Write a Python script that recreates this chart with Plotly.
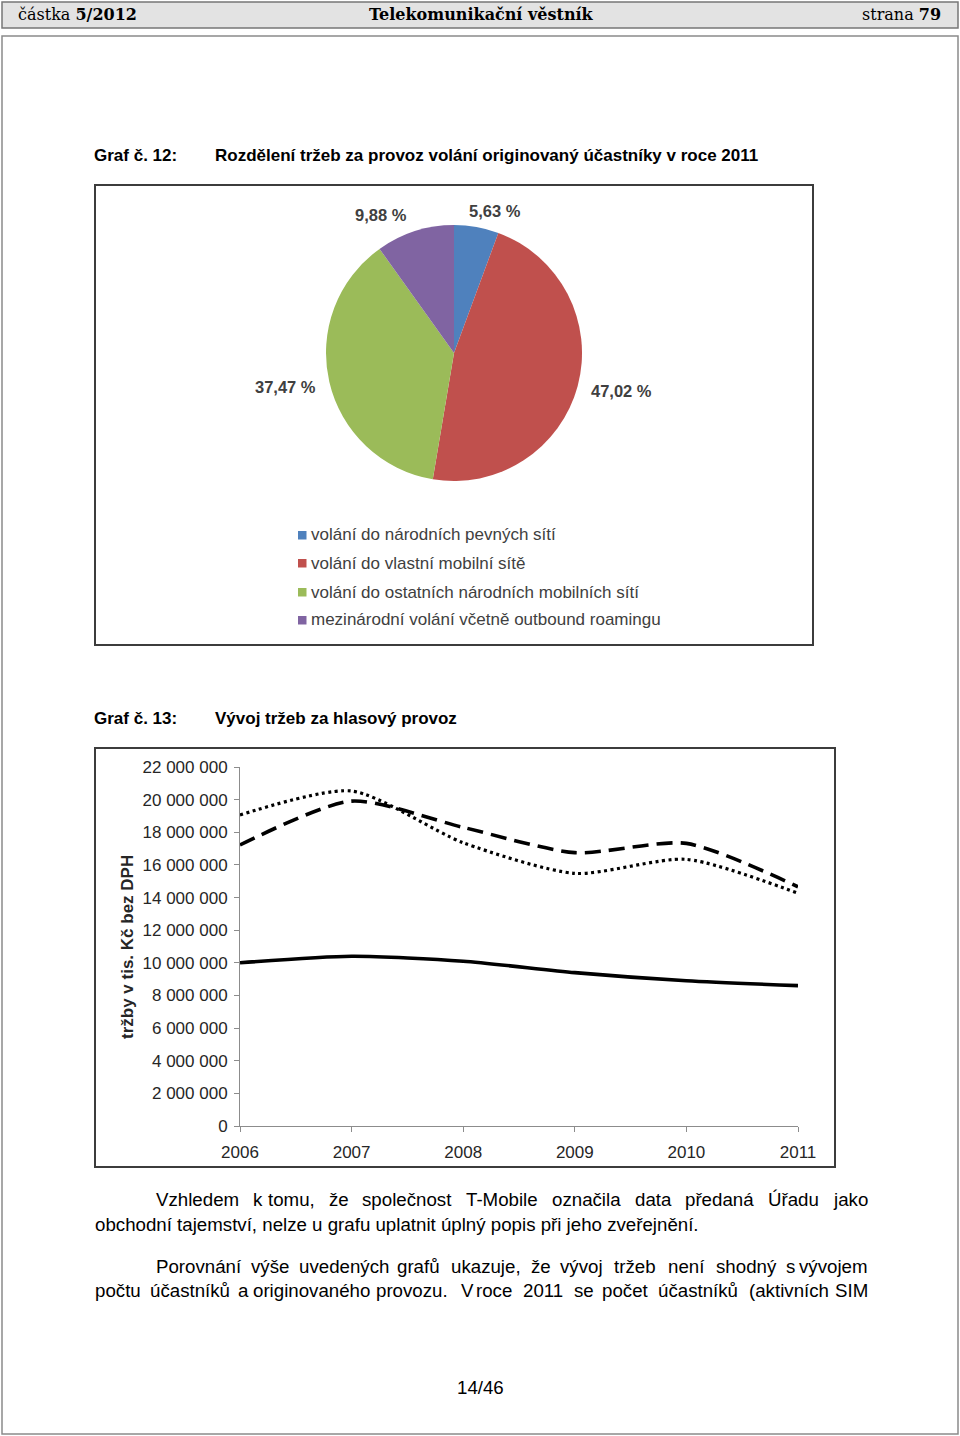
import plotly.graph_objects as go

W, H = 960, 1436

# ---------------- data ----------------
pie_labels = [
    "volání do národních pevných sítí",
    "volání do vlastní mobilní sítě",
    "volání do ostatních národních mobilních sítí",
    "mezinárodní volání včetně outbound roamingu",
]
pie_values = [5.63, 47.02, 37.47, 9.88]
pie_colors = ["#4F81BD", "#C0504D", "#9BBB59", "#8064A2"]

years = [2006, 2007, 2008, 2009, 2010, 2011]
series_dotted = [19_060_000, 20_530_000, 17_360_000, 15_480_000, 16_340_000, 14_260_000]
series_dashed = [17_220_000, 19_910_000, 18_300_000, 16_750_000, 17_320_000, 14_660_000]
series_solid = [10_000_000, 10_400_000, 10_100_000, 9_400_000, 8_900_000, 8_600_000]

y_tick_vals = [0, 2e6, 4e6, 6e6, 8e6, 10e6, 12e6, 14e6, 16e6, 18e6, 20e6, 22e6]
y_tick_text = ["0", "2 000 000", "4 000 000", "6 000 000", "8 000 000", "10 000 000",
               "12 000 000", "14 000 000", "16 000 000", "18 000 000", "20 000 000", "22 000 000"]
x_tick_text = ["2006", "2007", "2008", "2009", "2010", "2011"]

# ---------------- helpers ----------------
def px(x):
    return x / W

def py(y):
    return 1 - y / H

SANS = "Liberation Sans, Arial, sans-serif"
SERIF = "DejaVu Serif, Liberation Serif, serif"
BODY = 18.7

fig = go.Figure()

# pie chart
fig.add_trace(go.Pie(
    labels=pie_labels, values=pie_values, sort=False, direction="clockwise",
    rotation=0, marker=dict(colors=pie_colors, line=dict(width=0)),
    textinfo="none", hoverinfo="label+percent", showlegend=False, automargin=False,
    domain=dict(x=[px(326), px(582)], y=[py(481), py(225)]),
))

# line chart
line_specs = [
    (series_dotted, dict(color="black", width=3.2, dash="3px,3.5px")),
    (series_dashed, dict(color="black", width=3.6, dash="16px,8px")),
    (series_solid, dict(color="black", width=3.6)),
]
for vals, ln in line_specs:
    fig.add_trace(go.Scatter(
        x=years, y=vals, mode="lines", line=dict(shape="spline", smoothing=0.7, **ln),
        showlegend=False, xaxis="x", yaxis="y",
    ))

tick_font = dict(family=SANS, size=17, color="#262626")
fig.update_layout(
    template="none",
    width=W, height=H, autosize=False,
    margin=dict(l=0, r=0, t=0, b=0, pad=0, autoexpand=False),
    paper_bgcolor="white", plot_bgcolor="rgba(0,0,0,0)", showlegend=False,
    xaxis=dict(
        domain=[px(240), px(798)], range=[2006, 2011], tickmode="array",
        tickvals=years, ticktext=x_tick_text, showgrid=False, zeroline=False,
        showline=True, linecolor="#8c8c8c", linewidth=1, ticks="outside",
        ticklen=5, tickcolor="#8c8c8c", tickfont=tick_font, ticklabelstandoff=6,
        anchor="y", fixedrange=True, automargin=False,
    ),
    yaxis=dict(
        domain=[py(1126), py(767)], range=[0, 22e6], tickmode="array",
        tickvals=y_tick_vals, ticktext=y_tick_text, showgrid=False, zeroline=False,
        showline=True, linecolor="#8c8c8c", linewidth=1, ticks="outside",
        ticklen=5, tickcolor="#8c8c8c", tickfont=tick_font, ticklabelstandoff=3,
        anchor="x", fixedrange=True, automargin=False,
    ),
)

shapes = [
    # header bar
    dict(type="rect", xref="paper", yref="paper", x0=px(2), x1=px(958), y0=py(28), y1=py(2),
         fillcolor="#e3e3e3", line=dict(color="#777777", width=1.5), layer="below"),
    # page frame
    dict(type="rect", xref="paper", yref="paper", x0=px(2), x1=px(958), y0=py(1434), y1=py(36),
         line=dict(color="#8a8a8a", width=1.5), layer="below"),
    # pie chart frame
    dict(type="rect", xref="paper", yref="paper", x0=px(95), x1=px(813), y0=py(645), y1=py(185),
         line=dict(color="#3c3c3c", width=2), layer="below"),
    # line chart frame
    dict(type="rect", xref="paper", yref="paper", x0=px(95), x1=px(835), y0=py(1167), y1=py(748),
         line=dict(color="#3c3c3c", width=2), layer="below"),
]

ann = []

def text(x, y, s, size=17, anchor="left", color="black", family=SANS, **kw):
    ann.append(dict(x=px(x), y=py(y), xref="paper", yref="paper", text=s, showarrow=False,
                    xanchor=anchor, yanchor="middle", font=dict(family=family, size=size, color=color),
                    borderpad=0, **kw))

# header
text(17, 15, "částka <b>5/2012</b>", size=16, family=SERIF)
text(481, 15, "<b>Telekomunikační věstník</b>", size=16, anchor="center", family=SERIF)
text(942, 15, "strana <b>79</b>", size=16, anchor="right", family=SERIF)

# chart titles
text(93, 155, "<b>Graf č. 12:</b>", size=17)
text(214, 155, "<b>Rozdělení tržeb za provoz volání originovaný účastníky v roce 2011</b>", size=17)
text(93, 718, "<b>Graf č. 13:</b>", size=17)
text(214, 718, "<b>Vývoj tržeb za hlasový provoz</b>", size=17)

# pie labels
pie_label_pos = [(495, 211), (621, 391), (285, 387), (381, 215)]
for (lx, ly), v in zip(pie_label_pos, pie_values):
    text(lx, ly, "<b>" + f"{v:.2f}".replace(".", ",") + " %</b>", size=16.5, anchor="center", color="#404040")

# pie legend (manual)
leg_y = [535, 563, 592, 620]
for yy, lab, col in zip(leg_y, pie_labels, pie_colors):
    shapes.append(dict(type="rect", xref="paper", yref="paper", x0=px(298), x1=px(306.5),
                       y0=py(yy + 4.5), y1=py(yy - 4), fillcolor=col, line=dict(width=0)))
    text(310, yy, lab, size=17, color="#404040")

# y-axis title
ann.append(dict(x=px(127), y=py(947), xref="paper", yref="paper", text="<b>tržby v tis. Kč bez DPH</b>",
                showarrow=False, textangle=-90, xanchor="center", yanchor="middle",
                font=dict(family=SANS, size=17, color="#262626")))

# body text (justified lines placed word by word)
line1 = [("Vzhledem", 155), ("k", 252), ("tomu,", 266.5), ("že", 327.5), ("společnost", 361),
         ("T-Mobile", 464.5), ("označila", 551), ("data", 634), ("předaná", 684), ("Úřadu", 767), ("jako", 831.5)]
for w, x in line1:
    text(x, 1199, w, size=BODY)
text(93.5, 1224, "obchodní tajemství, nelze u grafu uplatnit úplný popis při jeho zveřejnění.", size=BODY)
line3 = [("Porovnání", 155), ("výše", 250), ("uvedených", 298), ("grafů", 396), ("ukazuje,", 449.5),
         ("že", 530), ("vývoj", 559), ("tržeb", 613), ("není", 666.5), ("shodný", 714.5), ("s", 785), ("vývojem", 798)]
for w, x in line3:
    text(x, 1266, w, size=BODY)
line4 = [("počtu", 94), ("účastníků", 149), ("a", 237), ("originovaného", 252), ("provozu.", 375),
         ("V", 459.5), ("roce", 475), ("2011", 522), ("se", 573), ("počet", 601), ("účastníků", 657),
         ("(aktivních", 748), ("SIM", 833.5)]
for w, x in line4:
    text(x, 1290, w, size=BODY)

# page number
text(480, 1387, "14/46", size=BODY, anchor="center")

fig.update_layout(shapes=shapes, annotations=ann)
fig.write_html(
    "out.html",
    config={"displayModeBar": False},
    post_script="document.body.style.margin='0';document.body.style.overflow='hidden';",
)
